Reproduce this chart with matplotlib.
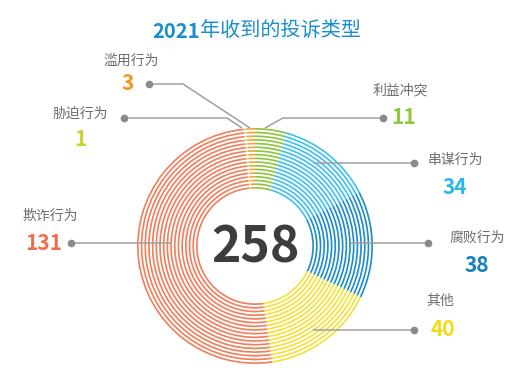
import matplotlib
matplotlib.use('Agg')
import matplotlib.pyplot as plt
import numpy as np

plt.rcParams['font.family'] = ['Noto Sans CJK SC', 'DejaVu Sans']

# clockwise from top
categories = ['胁迫行为', '滥用行为', '利益冲突', '串谋行为', '腐败行为', '其他', '欺诈行为']
values = [1, 3, 11, 34, 38, 40, 131]
ring_colors = ['#cfe07a', '#f9a43a', '#8cc63e', '#3fc1ee', '#1f8ccb', '#f2e238', '#f17f5c']
num_colors = ['#c6d52e', '#f7941d', '#8dc63f', '#29b8ea', '#1580c0', '#efdc14', '#f26b4c']
total = sum(values)

W, H = 521, 368
fig = plt.figure(figsize=(W / 100, H / 100), dpi=100)
ax = fig.add_axes([0, 0, 1, 1])

def Y(y):
    return H - y

cx, cy = 255, Y(246)
start = 90 + (values[0] + values[1]) / total * 360

n_rings = 17
r_in, r_out = 59, 118
for r in np.linspace(r_in, r_out, n_rings):
    ax.pie(values, colors=ring_colors, radius=r, center=(cx, cy),
           startangle=start, counterclock=False,
           wedgeprops=dict(width=1.7, linewidth=0))

# center total
ax.text(cx, cy - 2, str(total), ha='center', va='center', fontsize=36,
        fontweight='bold', color='#3d3d3f')

# title: bold year, regular rest
ax.text(200, Y(31), '2021', ha='right', va='center',
        fontsize=14.5, fontweight='bold', color='#1b8fcb')
ax.text(200, Y(31), '年收到的投诉类型', ha='left', va='center',
        fontsize=14.5, color='#1b8fcb')

line_c = '#a0a0a0'
dot_c = '#8a8a8a'

def leader(pts, dot):
    xs = [p[0] for p in pts]
    ys = [Y(p[1]) for p in pts]
    ax.plot(xs, ys, color=line_c, lw=1.1, zorder=5, solid_capstyle='butt')
    ax.plot(dot[0], Y(dot[1]), 'o', color=dot_c, ms=4.5, zorder=6)

# label layout: (label xy, number xy, leader points, dot)
layout = {
    '胁迫行为': ((80, 114), (80, 139), [(124, 118), (227, 118), (242, 128)], (124, 118)),
    '滥用行为': ((131, 61), (128, 84), [(149, 84), (183, 84), (250, 128)], (149, 84)),
    '利益冲突': ((400, 90), (404, 117), [(383, 118), (283, 118), (265, 128)], (383, 118)),
    '串谋行为': ((455, 160), (455, 187), [(414, 163), (313, 163)], (414, 163)),
    '腐败行为': ((477, 238), (477, 265), [(428, 243), (350, 243)], (428, 243)),
    '其他': ((440, 301), (443, 329), [(414, 330), (313, 330)], (414, 330)),
    '欺诈行为': ((50, 216), (44, 243), [(71, 243), (172, 243)], (71, 243)),
}

for cat, val, col in zip(categories, values, num_colors):
    lab, num, pts, dot = layout[cat]
    ax.text(lab[0], Y(lab[1]), cat, ha='center', va='center', fontsize=10,
            color='#6e6e6e')
    ax.text(num[0], Y(num[1]), str(val), ha='center', va='center',
            fontsize=15, fontweight='bold', color=col)
    leader(pts, dot)

ax.set_xlim(0, W)
ax.set_ylim(0, H)
ax.set_aspect('equal')
ax.axis('off')

fig.savefig('out.png', dpi=100)
